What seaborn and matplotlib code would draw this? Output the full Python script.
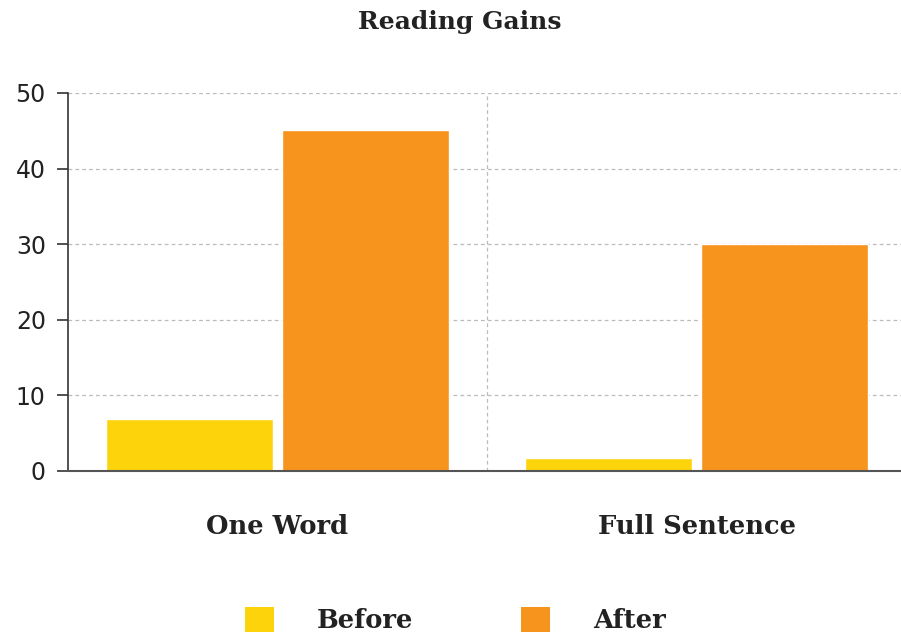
import matplotlib
matplotlib.use("Agg")
import matplotlib.pyplot as plt
import seaborn as sns
import pandas as pd
from matplotlib.patches import Patch

categories = ["One Word", "Full Sentence"]
series = ["Before", "After"]
before_values = [6.9, 1.7]
after_values = [45.1, 30.0]
colors = ["#FDD40B", "#F7941E"]
y_ticks = [0, 10, 20, 30, 40, 50]
title = "Reading Gains"

df = pd.DataFrame({
    "category": categories * 2,
    "series": [series[0]] * 2 + [series[1]] * 2,
    "value": before_values + after_values,
})

sns.set_theme(style="white")
serif = ["DejaVu Serif"]
sans = ["DejaVu Sans"]

fig = plt.figure(figsize=(9.01, 6.37), dpi=100)
ax = fig.add_axes([68 / 901, (637 - 471) / 637, (906 - 68) / 901, (471 - 93) / 637])

sns.barplot(data=df, x="category", y="value", hue="series", order=categories,
            hue_order=series, palette=colors, width=0.84, gap=0.05,
            saturation=1, ax=ax, legend=False)

ax.set_xlim(-0.5, 1.5)
ax.set_ylim(0, 50)
ax.set_yticks(y_ticks)
ax.set_yticklabels([str(t) for t in y_ticks], family=sans, fontsize=17, color="#222222")
ax.set_xticks(range(len(categories)))
ax.set_xticklabels(categories, family=serif, fontsize=18.5, fontweight="bold", color="#222222")
ax.tick_params(axis="x", length=0, pad=31, bottom=False)
ax.tick_params(axis="y", left=True, length=8, width=1.2, color="#333333", pad=8, direction="out")

for t in y_ticks[1:]:
    ax.axhline(t, color="#BBBBBB", lw=0.9, ls=(0, (3, 2.5)), zorder=0)
ax.axvline(0.5, color="#BBBBBB", lw=0.9, ls=(0, (3, 2.5)), zorder=0)

for s in ["top", "right"]:
    ax.spines[s].set_visible(False)
ax.spines["left"].set_color("#333333")
ax.spines["left"].set_linewidth(1.2)
ax.spines["bottom"].set_color("#555555")
ax.spines["bottom"].set_linewidth(1.5)
ax.set_xlabel("")
ax.set_ylabel("")

fig.text(460 / 901, 1 - 22 / 637, title, ha="center", va="center",
         family=serif, fontsize=18, fontweight="bold", color="#222222")

handles = [Patch(facecolor=c, edgecolor="none") for c in colors]
leg = fig.legend(handles, series, loc="center", bbox_to_anchor=(455 / 901, 1 - 620 / 637),
                 ncol=2, frameon=False, prop={"family": serif, "size": 18.5, "weight": "bold"},
                 handlelength=1.15, handleheight=1.15, handletextpad=1.65, columnspacing=4.2)
for t in leg.get_texts():
    t.set_color("#222222")

fig.savefig("out.png", dpi=100)
